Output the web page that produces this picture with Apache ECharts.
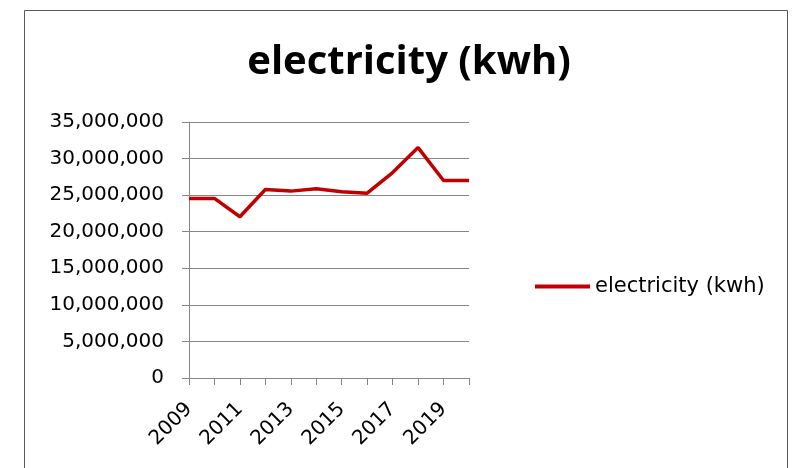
<!DOCTYPE html>
<html><head><meta charset="utf-8">
<script src="https://cdn.jsdelivr.net/npm/echarts@6/dist/echarts.min.js"></script>
<style>html,body{margin:0;padding:0;background:#fff}#c{width:798px;height:468px}</style>
</head><body><div id="c"></div>
<script>
const years = ['2009','2010','2011','2012','2013','2014','2015','2016','2017','2018','2019','2020'];
const electricity = [24550000,24550000,22050000,25770000,25550000,25860000,25450000,25270000,28090000,31500000,27000000,27000000];
const seriesName = 'electricity (kwh)';
const titleText = 'electricity (kwh)';
const font = 'DejaVu Sans';
const chart = echarts.init(document.getElementById('c'));
chart.setOption({
  animation:false,
  graphic:[{type:'rect',shape:{x:24.5,y:10.5,width:763,height:500},style:{fill:'none',stroke:'#595959',lineWidth:1},silent:true,z:-1}],
  title:{text:titleText,left:404,top:38,textAlign:'center',textStyle:{fontFamily:'Open Sans',fontWeight:'bold',fontSize:40,color:'#000'}},
  legend:{data:[seriesName],left:530,top:271,itemWidth:55,itemHeight:4,itemGap:6,icon:'rect',textStyle:{fontFamily:font,fontSize:21,color:'#000'}},
  grid:{left:189,top:122,width:280,height:256,containLabel:false},
  xAxis:{type:'category',data:years,boundaryGap:false,
    axisLine:{lineStyle:{color:'#868686',width:1}},
    axisTick:{show:true,interval:0,length:7,lineStyle:{color:'#868686'}},
    axisLabel:{interval:1,rotate:45,fontFamily:font,fontSize:20,color:'#000',margin:28},
    splitLine:{show:false}},
  yAxis:{type:'value',min:0,max:35000000,interval:5000000,
    axisLine:{show:true,lineStyle:{color:'#868686'}},
    axisTick:{show:true,length:7,lineStyle:{color:'#868686'}},
    axisLabel:{fontFamily:font,fontSize:20,color:'#000',margin:25,formatter:v=>v.toLocaleString('en-US')},
    splitLine:{lineStyle:{color:'#868686',width:1}}},
  series:[{name:seriesName,type:'line',data:electricity,showSymbol:false,symbol:'none',
    lineStyle:{color:'#C00000',width:3.5},itemStyle:{color:'#C00000'}}]
});
</script></body></html>
